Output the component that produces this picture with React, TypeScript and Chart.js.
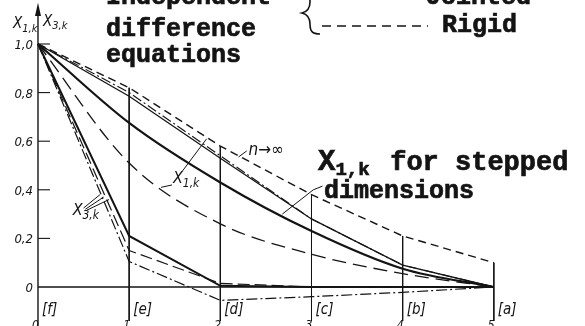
import React, { useEffect, useRef } from 'react';
import { Chart, registerables } from 'chart.js';

Chart.register(...registerables);

// Stations along the shaft, [f] at the free end through [a]
const stations = [0, 1, 2, 3, 4, 5];
const stationLabels = ['[f]', '[e]', '[d]', '[c]', '[b]', '[a]'];
const stationNumbers = ['0', '1', '2', '3', '4', '5'];

// Ordinate ticks
const yTicks = [0.2, 0.4, 0.6, 0.8, 1.0, 0];
const yTickLabels = ['0,2', '0,4', '0,6', '0,8', '1,0', '0'];

// X1,k family
const rigid = [1.0, 0.82, 0.58, 0.38, 0.21, 0.1]; // n -> infinity
const x1Upper = [1.0, 0.785, 0.53, 0.28, 0.09, 0];
const x1UpperDashDot = [1.0, 0.8, 0.54, 0.28, 0.09, 0];
const x1Stepped = [1.0, 0.675, 0.43, 0.23, 0.075, 0];
const x1LongDash = [1.0, 0.51, 0.26, 0.135, 0.055, 0];

// X3,k family
const x3Solid = [1.0, 0.21, 0.005, 0, 0, 0];
const x3Dashed = [1.0, 0.15, 0.015, 0, 0, 0];
const x3DashDot = [1.0, 0.105, -0.055, -0.04, -0.022, 0];

// Station verticals run from the rigid curve down below the axis
const stationFloor = -0.14;

const ink = '#141414';

const pts = (ys: number[]) => stations.map((x, i) => ({ x, y: ys[i] }));

const italicFont = (size: number) =>
  `italic ${size}px "Liberation Sans Narrow", "DejaVu Sans Condensed", "DejaVu Sans", sans-serif`;
const monoFont = (size: number) => `bold ${size}px "Liberation Mono", "DejaVu Sans Mono", monospace`;

// Typewriter lettering: filled plus a light outline for a heavier stroke
function typeText(ctx: CanvasRenderingContext2D, text: string, x: number, y: number) {
  ctx.fillText(text, x, y);
  ctx.lineWidth = 0.7;
  ctx.strokeText(text, x, y);
}

function drawSubLabel(
  ctx: CanvasRenderingContext2D,
  main: string,
  sub: string,
  x: number,
  y: number,
  size: number,
  font: (s: number) => string,
  subDrop = 5,
  subScale = 0.72,
  heavy = false
) {
  const put = (t: string, px: number, py: number) => (heavy ? typeText(ctx, t, px, py) : ctx.fillText(t, px, py));
  ctx.font = font(size);
  put(main, x, y);
  const w = ctx.measureText(main).width;
  ctx.font = font(Math.round(size * subScale));
  put(sub, x + w, y + subDrop);
  return x + w + ctx.measureText(sub).width;
}

const figurePlugin = {
  id: 'figure',
  beforeDatasetsDraw(chart: any) {
    const ctx: CanvasRenderingContext2D = chart.ctx;
    const xs = chart.scales.x;
    const ys = chart.scales.y;
    const X = (v: number) => xs.getPixelForValue(v);
    const Y = (v: number) => ys.getPixelForValue(v);
    ctx.save();
    ctx.strokeStyle = ink;
    ctx.fillStyle = ink;
    // ordinate axis with arrow
    ctx.lineWidth = 1.4;
    ctx.beginPath();
    ctx.moveTo(X(0), Y(1.12));
    ctx.lineTo(X(0), Y(stationFloor - 0.02));
    ctx.stroke();
    ctx.beginPath();
    ctx.moveTo(X(0), Y(1.17));
    ctx.lineTo(X(0) - 3, Y(1.115));
    ctx.lineTo(X(0) + 3, Y(1.115));
    ctx.closePath();
    ctx.fill();
    // abscissa
    ctx.lineWidth = 1.3;
    ctx.beginPath();
    ctx.moveTo(X(0), Y(0));
    ctx.lineTo(X(5), Y(0));
    ctx.stroke();
    // ordinate ticks
    ctx.lineWidth = 1.1;
    yTicks.forEach((t) => {
      if (t === 0) return;
      ctx.beginPath();
      ctx.moveTo(X(0), Y(t));
      ctx.lineTo(X(0) + 12, Y(t));
      ctx.stroke();
    });
    ctx.restore();
  },
  afterDatasetsDraw(chart: any) {
    const ctx: CanvasRenderingContext2D = chart.ctx;
    const xs = chart.scales.x;
    const ys = chart.scales.y;
    const X = (v: number) => xs.getPixelForValue(v);
    const Y = (v: number) => ys.getPixelForValue(v);
    ctx.save();
    ctx.strokeStyle = ink;
    ctx.fillStyle = ink;
    ctx.textBaseline = 'alphabetic';

    // tick labels
    ctx.font = italicFont(13);
    ctx.textAlign = 'right';
    yTicks.forEach((t, i) => {
      ctx.fillText(yTickLabels[i], X(0) - 5, Y(t) + 5);
    });
    ctx.textAlign = 'left';
    stations.forEach((s, i) => {
      ctx.font = italicFont(15);
      ctx.fillText(stationLabels[i], X(s) + 4, Y(0) + 27);
      ctx.font = italicFont(12);
      ctx.fillText(stationNumbers[i], X(s) - 6, Y(0) + 42);
    });

    // axis titles
    drawSubLabel(ctx, 'X', '1,k', X(0) - 25, Y(1.0) - 16, 15, italicFont, 4);
    drawSubLabel(ctx, 'X', '3,k', X(0) + 5, Y(1.0) - 18, 15, italicFont, 3);

    // curve labels
    ctx.font = italicFont(17);
    ctx.fillText('n→∞', X(2.31), Y(0.545));
    drawSubLabel(ctx, 'X', '1,k', X(1.48), Y(0.43), 16, italicFont, 4);
    drawSubLabel(ctx, 'X', '3,k', X(0.38), Y(0.295), 16, italicFont, 4);

    // leader lines
    ctx.lineWidth = 1;
    const seg = (a: number[], b: number[]) => {
      ctx.beginPath();
      ctx.moveTo(X(a[0]), Y(a[1]));
      ctx.lineTo(X(b[0]), Y(b[1]));
      ctx.stroke();
    };
    seg([2.29, 0.56], [2.2, 0.535]);
    seg([1.47, 0.42], [1.35, 0.41]);
    seg([1.58, 0.475], [1.85, 0.61]);
    seg([2.68, 0.3], [3.02, 0.4]);
    seg([3.02, 0.4], [3.12, 0.415]);
    seg([0.5, 0.325], [0.68, 0.38]);
    seg([0.52, 0.32], [0.72, 0.37]);
    seg([0.53, 0.315], [0.78, 0.36]);

    // left text block
    ctx.font = monoFont(25);
    typeText(ctx, 'Independent', 106, 4);
    typeText(ctx, 'difference', 106, 36);
    typeText(ctx, 'equations', 106, 62);

    // legend with brace
    ctx.lineWidth = 1.6;
    ctx.beginPath();
    ctx.moveTo(318, -22);
    ctx.bezierCurveTo(309, -20, 310, -8, 310, 2);
    ctx.bezierCurveTo(310, 10, 306, 12, 302, 13);
    ctx.bezierCurveTo(306, 14, 310, 17, 310, 24);
    ctx.bezierCurveTo(310, 31, 312, 34, 320, 34);
    ctx.stroke();
    ctx.lineWidth = 1.7;
    ctx.setLineDash([9, 6]);
    ctx.beginPath();
    ctx.moveTo(322, 26);
    ctx.lineTo(428, 26);
    ctx.stroke();
    ctx.setLineDash([]);
    ctx.beginPath();
    ctx.moveTo(322, -6);
    ctx.lineTo(425, -6);
    ctx.stroke();
    ctx.font = monoFont(25);
    typeText(ctx, 'Jointed', 426, 4);
    typeText(ctx, 'Rigid', 442, 32);

    // stepped-dimensions note
    const endX = drawSubLabel(ctx, 'X', '1,k', 318, 170, 29, monoFont, 5, 0.66, true);
    ctx.font = monoFont(27);
    typeText(ctx, ' for stepped', Math.max(endX, 374), 170);
    ctx.font = monoFont(25);
    typeText(ctx, 'dimensions', 324, 198);

    ctx.restore();
  },
};

export default function App() {
  const canvasRef = useRef<HTMLCanvasElement>(null);

  useEffect(() => {
    if (!canvasRef.current) return;
    const line = (data: number[], width: number, dash: number[], smooth = false) => ({
      data: pts(data),
      showLine: true,
      borderColor: ink,
      borderWidth: width,
      borderDash: dash,
      pointRadius: 0,
      fill: false,
      cubicInterpolationMode: smooth ? 'monotone' : 'default',
      tension: 0,
    });
    const verticals = stations.slice(1).map((s, i) => ({
      data: [
        { x: s, y: rigid[i + 1] },
        { x: s, y: stationFloor },
      ],
      showLine: true,
      borderColor: ink,
      borderWidth: 1,
      pointRadius: 0,
      fill: false,
    }));

    const chart = new Chart(canvasRef.current, {
      type: 'scatter',
      data: {
        datasets: [
          ...verticals,
          line(rigid, 1.4, [8, 5]),
          line(x1UpperDashDot, 1.1, [10, 3, 2, 3]),
          line(x1Upper, 1.3, []),
          line(x1Stepped, 2.2, [], true),
          line(x1LongDash, 1.3, [14, 7], true),
          line(x3Dashed, 1.2, [12, 5]),
          line(x3DashDot, 1.2, [11, 3, 2, 3]),
          line(x3Solid, 2.0, []),
        ] as any,
      },
      options: {
        responsive: false,
        animation: false,
        layout: { padding: 0 },
        scales: {
          x: { type: 'linear', min: -0.4167, max: 6.0, display: false },
          y: { type: 'linear', min: -0.1605, max: 1.181, display: false },
        },
        plugins: { legend: { display: false }, tooltip: { enabled: false } },
        events: [],
      },
      plugins: [figurePlugin],
    });
    return () => chart.destroy();
  }, []);

  return (
    <div style={{ position: 'absolute', left: 0, top: 0, width: 585, height: 326, background: '#fff' }}>
      <canvas ref={canvasRef} width={585} height={326} style={{ display: 'block' }} />
    </div>
  );
}
